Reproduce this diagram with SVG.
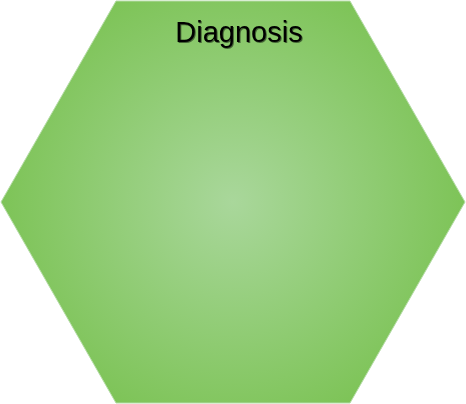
<svg xmlns="http://www.w3.org/2000/svg" width="466" height="404" viewBox="0 0 466 404">
<defs>
<radialGradient id="g" cx="233" cy="202" r="240" gradientUnits="userSpaceOnUse">
<stop offset="0" stop-color="#a9d79b"/>
<stop offset="1" stop-color="#7cc355"/>
</radialGradient>
<filter id="sh" x="-10%" y="-20%" width="120%" height="140%">
<feDropShadow dx="1" dy="1" stdDeviation="0.6" flood-color="#000" flood-opacity="0.5"/>
</filter>
<style>
.lbl{font-family:"Liberation Sans",Arial,sans-serif;font-size:29px;fill:#000;text-anchor:middle}
</style>
</defs>
<g id="diagnosis">
<polygon points="116,1 350,1 465,202 350,403 116,403 1,202" fill="url(#g)" stroke="#b5dca6" stroke-width="1"/>
<text class="lbl" x="239" y="42" filter="url(#sh)">Diagnosis</text>
</g>
<g id="connectors"/>
</svg>
